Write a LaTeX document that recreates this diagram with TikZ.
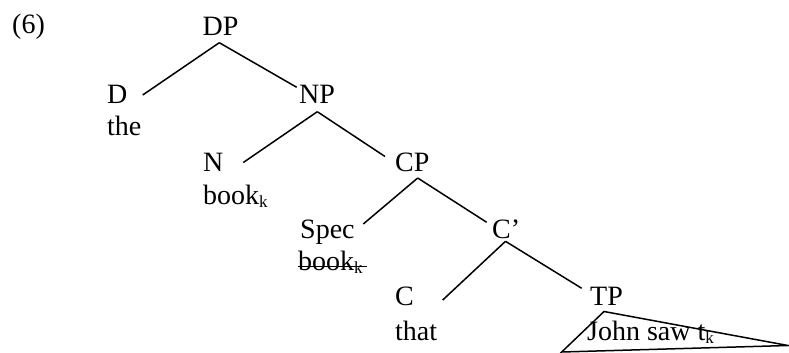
\documentclass[tikz,border=0pt]{standalone}
\usepackage{fontspec}
\setmainfont{Liberation Serif}
\newcommand{\subk}{\raisebox{-3pt}{\fontsize{17}{17}\selectfont k}}
\begin{document}
\begin{tikzpicture}[x=1pt,y=-1pt,
  lbl/.style={anchor=base west,inner sep=0pt,font=\fontsize{28}{32}\selectfont},
  edge/.style={line width=1.5pt}]
\useasboundingbox (0,0) rectangle (789,353);
% labels
\node[lbl] (ex) at (12,34) {(6)};
\node[lbl] (DP) at (202.5,35.7) {DP};
\node[lbl] (D) at (107,103) {D};
\node[lbl] (the) at (107,135) {the};
\node[lbl] (NP) at (299,103) {NP};
\node[lbl] (N) at (203,171.5) {N};
\node[lbl] (book) at (203,204) {book\subk};
\node[lbl] (CP) at (395,171.5) {CP};
\node[lbl] (Spec) at (300,238) {Spec};
\node[lbl] (sbook) at (298,270) {book\subk};
\node[lbl] (Cbar) at (492,238) {C’};
\node[lbl] (C) at (395,305) {C};
\node[lbl] (that) at (395,340) {that};
\node[lbl] (TP) at (590,305) {TP};
\node[lbl] (john) at (587,340) {John saw t\subk};
% branch points
\coordinate (DPb) at (219.3,42.7);
\coordinate (De) at (142.7,95);
\coordinate (NPe) at (296.7,87.3);
\coordinate (NPb) at (317.3,111.7);
\coordinate (Ne) at (243.3,162.5);
\coordinate (CPe) at (385,156.5);
\coordinate (CPb) at (417.7,178);
\coordinate (Spe) at (363.3,224);
\coordinate (Cbe) at (486.7,222.3);
\coordinate (Cbb) at (505.5,241.3);
\coordinate (Ce) at (442.7,300);
\coordinate (TPe) at (581.7,288.3);
\coordinate (T1) at (604,311.5);
\coordinate (T2) at (561.7,352);
\coordinate (T3) at (788,345.5);
\coordinate (s1) at (298,266.7);
\coordinate (s2) at (367.3,266.7);
% edges
\draw[edge] (DPb) -- (De);
\draw[edge] (DPb) -- (NPe);
\draw[edge] (NPb) -- (Ne);
\draw[edge] (NPb) -- (CPe);
\draw[edge] (CPb) -- (Spe);
\draw[edge] (CPb) -- (Cbe);
\draw[edge] (Cbb) -- (Ce);
\draw[edge] (Cbb) -- (TPe);
\draw[edge,line join=miter] (T1) -- (T2) -- (T3) -- cycle;
\draw[line width=1.3pt] (s1) -- (s2);
\end{tikzpicture}
\end{document}
